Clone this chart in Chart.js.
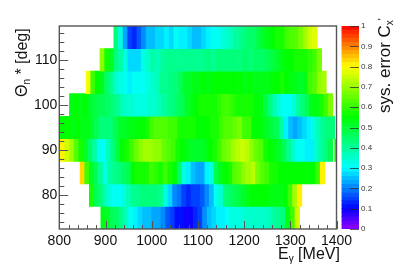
<!DOCTYPE html>
<html><head><meta charset="utf-8">
<script src="https://cdn.jsdelivr.net/npm/chart.js@4"></script>
<style>
html,body{margin:0;padding:0;background:#fff;width:399px;height:271px;overflow:hidden}
canvas{position:absolute;left:0;top:0}
</style></head><body>
<canvas id="main" width="399" height="271"></canvas>
<canvas id="bar" width="399" height="271"></canvas>
<script>
const xTicks = [800,900,1000,1100,1200,1300,1400];
const yTicks = [80,90,100,110];
const zTicks = [0,0.1,0.2,0.3,0.4,0.5,0.6,0.7,0.8,0.9,1];
const rowCenters = [115,110,105,100,95,90,85,80,75];
const rowStarts = [918,888,858,822,796,792,845,865,890];
const row115 = [.42,.33,.22,.15,.13,.17,.2,.25,.24,.27,.26,.28,.27,.3,.29,.28,.27,.25,.24,.27,.28,.3,.31,.33,.35,.36,.38,.41,.42,.44,.44,.48,.5,.52,.55,.58,.58,.6,.62,.63,.66,.7,.75,.76];
const row110 = [.68,.58,.5,.42,.38,.33,.27,.26,.27,.32,.35,.39,.37,.39,.4,.4,.41,.41,.41,.4,.4,.4,.41,.42,.41,.42,.42,.43,.42,.43,.42,.44,.43,.44,.44,.45,.46,.48,.5,.52,.54,.55,.56,.58,.58,.59,.6,.66];
const row105 = [.78,.6,.55,.52,.45,.4,.35,.33,.31,.29,.31,.3,.31,.33,.35,.37,.4,.41,.42,.43,.47,.5,.51,.52,.53,.54,.53,.54,.54,.55,.54,.55,.55,.54,.53,.54,.53,.52,.53,.52,.54,.55,.56,.55,.53,.52,.5,.52,.6,.62,.68,.7];
const row100 = [.52,.54,.53,.54,.5,.48,.47,.46,.44,.42,.4,.37,.35,.34,.33,.33,.32,.34,.35,.37,.38,.4,.42,.44,.47,.5,.52,.54,.56,.57,.58,.58,.59,.6,.6,.59,.58,.57,.56,.56,.55,.53,.48,.42,.36,.33,.3,.3,.32,.38,.42,.47,.52,.53,.56,.6,.66];
const row95 = [.55,.54,.55,.53,.54,.53,.52,.5,.46,.43,.42,.43,.46,.5,.5,.53,.52,.55,.54,.56,.6,.62,.63,.62,.6,.6,.58,.57,.56,.56,.55,.55,.54,.56,.57,.6,.62,.63,.64,.66,.6,.6,.55,.54,.52,.5,.48,.46,.38,.28,.25,.23,.25,.27,.29,.33,.37,.4,.42,.42];
const row90 = [.8,.8,.75,.7,.62,.56,.5,.45,.38,.3,.3,.36,.42,.48,.54,.56,.6,.65,.68,.7,.7,.69,.68,.65,.62,.6,.58,.55,.52,.5,.5,.5,.52,.54,.57,.6,.65,.67,.7,.73,.75,.72,.68,.65,.62,.58,.55,.53,.5,.46,.4,.34,.3,.3,.28,.29,.34,.38,.42,.47];
const row85 = [.83,.6,.5,.46,.38,.33,.38,.41,.42,.44,.47,.54,.56,.58,.58,.6,.59,.58,.6,.58,.55,.45,.33,.28,.24,.22,.23,.28,.33,.47,.52,.55,.58,.62,.64,.68,.7,.72,.66,.62,.6,.58,.56,.55,.55,.54,.54,.54,.55,.55,.55,.6,.8];
const row80 = [.58,.47,.42,.36,.33,.3,.3,.32,.36,.4,.41,.42,.43,.42,.42,.4,.33,.27,.21,.18,.15,.13,.14,.14,.16,.2,.25,.3,.35,.43,.45,.47,.48,.5,.52,.54,.54,.55,.54,.53,.53,.52,.55,.6,.7,.8];
const row75 = [.52,.5,.47,.45,.4,.36,.31,.29,.26,.25,.24,.23,.23,.2,.17,.14,.11,.1,.09,.09,.12,.15,.2,.25,.27,.28,.28,.3,.32,.33,.33,.34,.34,.35,.34,.34,.36,.38,.4,.42,.52,.6,.74];
const rows = [row115,row110,row105,row100,row95,row90,row85,row80,row75];
const row90EdgeStart = 1396, row90EdgeValue = [.58];
const binWidth = 10, rowHeight = 5;
const paletteStops = [[0,[144,0,255]],[.1,[0,0,255]],[.3,[0,255,255]],[.55,[0,255,0]],[.8,[255,255,0]],[1,[255,0,0]]];
const levels = 50;

function colorOf(v){
  const t = (Math.min(levels-1,Math.floor(v*levels))+.5)/levels;
  for(let i=1;i<paletteStops.length;i++){
    const [a,ca]=paletteStops[i-1],[b,cb]=paletteStops[i];
    if(t<=b){const f=(t-a)/(b-a);
      return `rgb(${ca.map((c,k)=>Math.round(c+(cb[k]-c)*f)).join(',')})`;}
  }
  return 'rgb(255,0,0)';
}
function rowDataset(center,start,vals){
  return {
    data: vals.map((v,i)=>({x:start+binWidth*(i+.5),y:[center-rowHeight/2,center+rowHeight/2]})),
    backgroundColor: vals.map(colorOf),
    borderWidth:0, barThickness:4.62, grouped:false
  };
}
const datasets = rows.map((r,i)=>rowDataset(rowCenters[i],rowStarts[i],r));
datasets.push(rowDataset(90,row90EdgeStart,row90EdgeValue));

const FRAME='#555';
const FONT='"Liberation Sans", Arial, sans-serif';
function line(c,x1,y1,x2,y2){c.beginPath();c.moveTo(x1,y1);c.lineTo(x2,y2);c.stroke();}
function rich(c,x,y,parts){
  let cx=x;
  for(const [t,size,dy] of parts){c.font=`${size}px ${FONT}`;c.fillText(t,cx,y+dy);cx+=c.measureText(t).width;}
}
const frame={id:'frame',afterDatasetsDraw(ch){
  const c=ch.ctx,{left,right,top,bottom}=ch.chartArea,sx=ch.scales.x,sy=ch.scales.y;
  c.save();c.strokeStyle=FRAME;c.lineWidth=1;
  for(let v=800;v<=1400;v+=20){const p=Math.round(sx.getPixelForValue(v))+.5;line(c,p,bottom,p,bottom-(v%100===0?8:4));}
  for(let v=74;v<=116;v+=2){const p=Math.round(sy.getPixelForValue(v))+.5;line(c,left,p,left+(v%10===0?9:5),p);}
  c.lineWidth=1.4;c.strokeRect(left,top,right-left,bottom-top);
  c.fillStyle='#111';c.textBaseline='alphabetic';
  rich(c,278,259,[['E',16,0],['γ',10,3],[' [MeV]',16,0]]);
  c.translate(27,97);c.rotate(-Math.PI/2);
  rich(c,0,0,[['Θ',16,0],['n',10,3],[' * [deg]',16,0]]);
  c.restore();
}};
new Chart(document.getElementById('main'),{
  type:'bar',
  data:{datasets},
  plugins:[frame],
  options:{
    responsive:false,animation:false,
    layout:{padding:{top:26,right:62.5,left:0,bottom:0}},
    plugins:{legend:{display:false},tooltip:{enabled:false}},
    scales:{
      x:{type:'linear',offset:false,min:800,max:1400,grid:{display:false,drawTicks:false},border:{display:false},
        afterBuildTicks:s=>{s.ticks=xTicks.map(value=>({value}));},
        afterFit:s=>{s.height=42;},
        ticks:{color:'#111',font:{family:FONT,size:14},padding:4,maxRotation:0,autoSkip:false,callback:v=>String(v)}},
      y:{type:'linear',min:72.5,max:117.5,grid:{display:false,drawTicks:false},border:{display:false},
        afterBuildTicks:s=>{s.ticks=yTicks.map(value=>({value}));},
        afterFit:s=>{s.width=59.3;},
        ticks:{color:'#111',font:{family:FONT,size:14},padding:2,autoSkip:false,callback:v=>String(v)}}
    }
  }
});

const barDatasets=[];
for(let k=0;k<levels;k++){
  barDatasets.push({data:[{x:'z',y:[k/levels,(k+1)/levels]}],backgroundColor:colorOf((k+.5)/levels),
    borderWidth:0,grouped:false,barPercentage:1,categoryPercentage:1});
}
const barDeco={id:'barDeco',afterDatasetsDraw(ch){
  const c=ch.ctx,{right}=ch.chartArea,s=ch.scales.y;
  c.save();c.strokeStyle='rgba(40,40,40,.75)';c.lineWidth=1;
  zTicks.forEach(v=>{const p=Math.round(s.getPixelForValue(v))+.5;line(c,right-9,p,right,p);});
  c.fillStyle='#111';c.textBaseline='alphabetic';
  c.translate(390,113);c.rotate(-Math.PI/2);
  rich(c,0,0,[['sys. error C',17,0],['x',10,3],["'",10,-4]]);
  c.restore();
}};
new Chart(document.getElementById('bar'),{
  type:'bar',
  data:{labels:['z'],datasets:barDatasets},
  plugins:[barDeco],
  options:{
    responsive:false,animation:false,
    layout:{padding:{top:26,left:341.5,right:0,bottom:0}},
    plugins:{legend:{display:false},tooltip:{enabled:false}},
    scales:{
      x:{display:true,offset:true,grid:{display:false,drawTicks:false},border:{display:false},ticks:{display:false},afterFit:s=>{s.height=42;}},
      y:{type:'linear',position:'right',min:0,max:1,grid:{display:false,drawTicks:false},border:{display:false},
        afterBuildTicks:s=>{s.ticks=zTicks.map(value=>({value}));},
        afterFit:s=>{s.width=40;},
        ticks:{color:'#333',font:{family:FONT,size:8},padding:2,autoSkip:false,callback:v=>String(v)}}
    }
  }
});
</script>
</body></html>
